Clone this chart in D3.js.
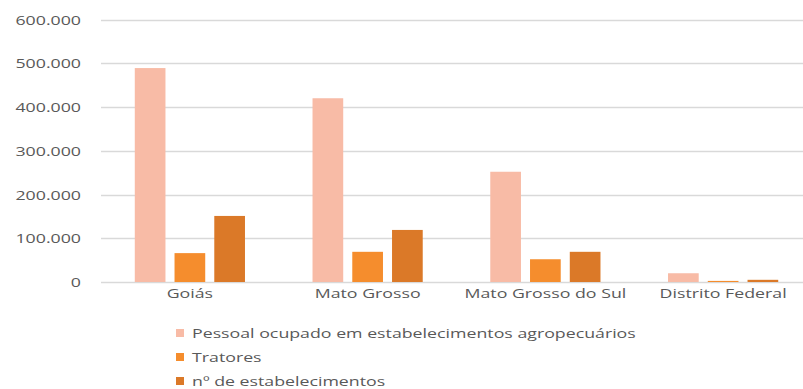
<!DOCTYPE html>
<html>
<head>
<meta charset="utf-8">
<script src="https://cdn.jsdelivr.net/npm/d3@7"></script>
<style>
  body { margin: 0; background: #fff; }
  text { font-family: "Open Sans", sans-serif; fill: #595959; }
</style>
</head>
<body>
<div class="canvas"></div>
<script>
// data
const states = ['Goiás', 'Mato Grosso', 'Mato Grosso do Sul', 'Distrito Federal']
const seriesNames = ['Pessoal ocupado em estabelecimentos agropecuários', 'Tratores', 'nº de estabelecimentos']
const pessoal = [489000, 420000, 252000, 20000]
const tratores = [66000, 69000, 52000, 2500]
const estabelecimentos = [151000, 119000, 69000, 5000]
const yTicks = [0, 100000, 200000, 300000, 400000, 500000, 600000]

const colors = ['#f8bba6', '#f58d2d', '#db7928']

const svgWidth = 803
const svgHeight = 389
const stretch = 1.42 // text in the picture is stretched sideways

const svg = d3.select('.canvas')
    .append('svg')
    .attr('width', svgWidth)
    .attr('height', svgHeight)

const plotTop = 19.5, plotBottom = 282
const plotLeft = 101, plotRight = 812

const y = d3.scaleLinear().domain([0, 600000]).range([plotBottom, plotTop])
const x0 = d3.scaleBand().domain(states).range([plotLeft, plotRight])
    .paddingInner(0.38).paddingOuter(0.19)
const x1 = d3.scaleBand().domain(seriesNames).range([0, x0.bandwidth()])
    .paddingInner(0.228)

const values = [pessoal, tratores, estabelecimentos]

// gridlines
svg.append('g')
    .selectAll('line')
    .data(yTicks)
    .enter().append('line')
    .attr('x1', plotLeft)
    .attr('x2', svgWidth)
    .attr('y1', d => Math.round(y(d)) + 0.5)
    .attr('y2', d => Math.round(y(d)) + 0.5)
    .attr('stroke', '#d9d9d9')
    .attr('stroke-width', 1.3)

// y axis labels
const fmt = d => d === 0 ? '0' : d3.format(',')(d).replace(/,/g, '.')
const yAxis = d3.axisLeft(y).tickValues(yTicks).tickFormat(fmt).tickSize(0).tickPadding(0)
const yAxisGroup = svg.append('g')
    .attr('transform', `translate(81, 0)`)
    .call(yAxis)
yAxisGroup.select('.domain').remove()
yAxisGroup.selectAll('text')
    .attr('font-size', '12.5px')
    .attr('font-family', '"Open Sans", sans-serif')
    .attr('fill', '#595959')
    .attr('dy', '0.36em')

// bars
const groups = svg.append('g')
    .selectAll('g')
    .data(states)
    .enter().append('g')
    .attr('transform', d => `translate(${x0(d)}, 0)`)

groups.selectAll('rect')
    .data((d, i) => seriesNames.map((s, j) => ({ series: s, value: values[j][i], j })))
    .enter().append('rect')
    .attr('x', d => x1(d.series))
    .attr('width', x1.bandwidth())
    .attr('y', d => y(d.value))
    .attr('height', d => plotBottom - y(d.value))
    .attr('fill', d => colors[d.j])

// x axis labels
const xAxis = d3.axisBottom(x0).tickSize(0).tickPadding(0)
const xAxisGroup = svg.append('g')
    .attr('transform', `translate(0, ${plotBottom})`)
    .call(xAxis)
xAxisGroup.select('.domain').remove()
xAxisGroup.selectAll('text')
    .attr('font-size', '12.5px')
    .attr('font-family', '"Open Sans", sans-serif')
    .attr('fill', '#595959')
    .attr('dy', '16px')

// legend
const legend = svg.append('g')
    .selectAll('g')
    .data(seriesNames)
    .enter().append('g')
    .attr('transform', (d, i) => `translate(176, ${333 + i * 24})`)

legend.append('rect')
    .attr('x', 0)
    .attr('y', -4)
    .attr('width', 8)
    .attr('height', 8)
    .attr('fill', (d, i) => colors[i])

legend.append('text')
    .attr('x', 16)
    .attr('dy', '0.36em')
    .attr('font-size', '12.5px')
    .text(d => d)

// widen every label like the source image
svg.selectAll('text').each(function () {
    const len = this.getComputedTextLength()
    d3.select(this)
        .attr('textLength', len * stretch)
        .attr('lengthAdjust', 'spacingAndGlyphs')
})
</script>
</body>
</html>
